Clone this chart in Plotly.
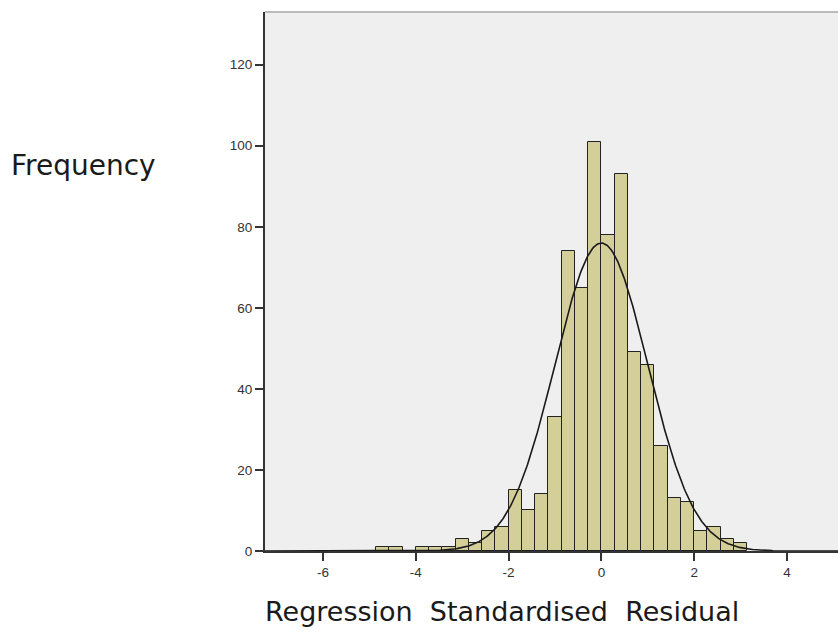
import math
import plotly.graph_objects as go

# ---- data ----
bin_left_edges = [-4.857, -4.571, -4.286, -4.000, -3.714, -3.429, -3.143, -2.857,
                  -2.571, -2.286, -2.000, -1.714, -1.429, -1.143, -0.857, -0.571,
                  -0.286, 0.000, 0.286, 0.571, 0.857, 1.143, 1.429, 1.714,
                  2.000, 2.286, 2.571, 2.857]
bin_counts = [1, 1, 0, 1, 1, 1, 3, 2,
              5, 6, 15, 10, 14, 33, 74, 65,
              101, 78, 93, 49, 46, 26, 13, 12,
              5, 6, 3, 2]
bin_width = 2 / 7
fit_mean = 0.0
fit_std = 0.999
x_tick_vals = [-6, -4, -2, 0, 2, 4]
y_tick_vals = [0, 20, 40, 60, 80, 100, 120]

n_total = sum(bin_counts)
bin_centers = [e + bin_width / 2 for e in bin_left_edges]

# fitted normal curve (as drawn by SPSS: N * width * pdf)
x_min, x_max = -7.25, 5.1
steps = 600
curve_x = [x_min + (x_max - x_min) * i / steps for i in range(steps + 1)]
curve_y = [n_total * bin_width / (fit_std * math.sqrt(2 * math.pi))
           * math.exp(-0.5 * ((x - fit_mean) / fit_std) ** 2) for x in curve_x]

fig = go.Figure()
fig.add_trace(go.Bar(
    x=bin_centers, y=bin_counts, width=[bin_width] * len(bin_counts),
    marker=dict(color="#d4cf98", line=dict(color="#222222", width=1)),
    showlegend=False, hoverinfo="x+y",
))
fig.add_trace(go.Scatter(
    x=curve_x, y=curve_y, mode="lines",
    line=dict(color="#1a1a1a", width=1.6), showlegend=False,
))

tick_font = dict(family="Liberation Sans, Arial, sans-serif", size=13.5, color="#333333")

fig.update_layout(
    width=838, height=632,
    margin=dict(l=265, r=0, t=12, b=81),
    paper_bgcolor="white",
    plot_bgcolor="#efefef",
    bargap=0,
    xaxis=dict(
        range=[x_min, x_max], tickvals=x_tick_vals, ticktext=[str(v) for v in x_tick_vals],
        ticks="outside", ticklen=8, tickwidth=1.5, tickcolor="#333333",
        showline=True, linecolor="#333333", linewidth=2,
        showgrid=False, zeroline=False, tickfont=tick_font,
    ),
    yaxis=dict(
        range=[0, 133], tickvals=y_tick_vals, ticktext=[str(v) for v in y_tick_vals],
        ticks="outside", ticklen=8, tickwidth=1.5, tickcolor="#333333",
        showline=True, linecolor="#333333", linewidth=2,
        showgrid=False, zeroline=False, tickfont=tick_font,
    ),
    shapes=[dict(type="line", xref="paper", yref="paper", x0=0, x1=1, y0=1, y1=1,
                 line=dict(color="#bcbcbc", width=2))],
    annotations=[
        dict(text="Frequency", xref="paper", yref="paper", x=-0.447, y=0.716,
             xanchor="left", yanchor="middle", showarrow=False,
             font=dict(family="DejaVu Sans, Verdana, sans-serif", size=28, color="#1a1a1a")),
        dict(text="Regression\u00a0 Standardised\u00a0 Residual", xref="paper", yref="paper",
             x=0.413, y=-0.113, xanchor="center", yanchor="middle", showarrow=False,
             font=dict(family="DejaVu Sans, Verdana, sans-serif", size=27, color="#1a1a1a")),
    ],
)

fig.write_html(
    "out.html",
    config={"displayModeBar": False},
    post_script="document.body.style.margin='0';document.body.style.overflow='hidden';",
)
